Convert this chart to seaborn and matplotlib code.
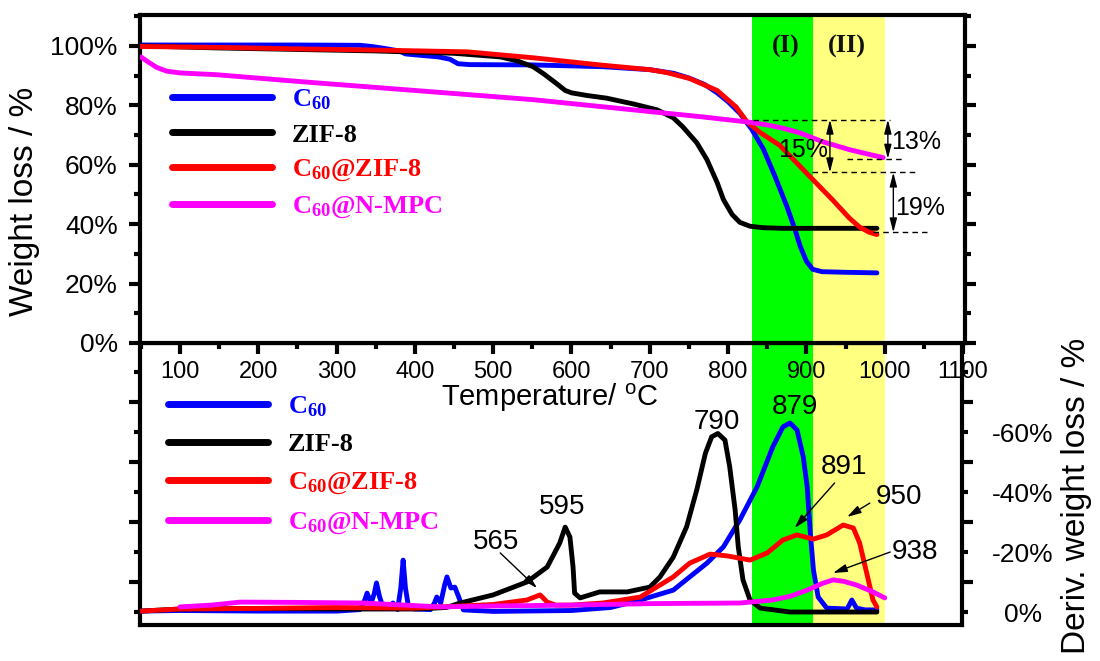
import numpy as np
import pandas as pd
import matplotlib
matplotlib.use("Agg")
import matplotlib.pyplot as plt
import seaborn as sns
from matplotlib.ticker import MultipleLocator, FixedLocator, FuncFormatter, NullFormatter

sns.set_theme(style="ticks")
plt.rcParams["font.family"] = ["Liberation Sans", "DejaVu Sans"]
plt.rcParams["mathtext.fontset"] = "custom"
plt.rcParams["mathtext.rm"] = "Liberation Sans"
plt.rcParams["mathtext.it"] = "Liberation Sans:italic"
plt.rcParams["mathtext.bf"] = "Liberation Serif:bold"

# ---------------- data: TGA (temperature in degC, weight %) ----------------
c60_T = [50, 150, 250, 330, 345, 360, 380, 388, 400, 430, 445, 455, 470, 550, 640, 700,
         730, 750, 770, 786, 800, 815, 830, 845, 860, 875, 885, 892, 900, 908, 920, 950, 990]
c60_W = [100.3, 100.3, 100.3, 100.2, 99.8, 99.2, 98.3, 97.3, 97.0, 96.3, 95.5, 94.0, 93.7,
         93.6, 93.0, 92.0, 90.8, 89.2, 87.0, 84.2, 81.2, 77.3, 72.0, 65.3, 56.0, 46.0, 38.5,
         32.6, 27.5, 24.8, 24.0, 23.8, 23.6]

zif_T = [50, 150, 250, 350, 450, 509, 530, 551, 565, 580, 592, 600, 620, 645, 680, 709, 730,
         742, 760, 773, 786, 794, 805, 815, 828, 845, 870, 990]
zif_W = [100.0, 99.3, 98.8, 98.3, 97.5, 96.3, 95.0, 93.0, 90.5, 87.5, 85.0, 84.2, 83.3, 82.4,
         80.4, 78.5, 75.8, 72.8, 67.4, 61.7, 54.0, 48.3, 43.3, 40.6, 39.3, 38.8, 38.6, 38.6]

cz_T = [50, 150, 250, 350, 467, 551, 636, 700, 722, 751, 786, 810, 824, 840, 866, 892, 910,
        934, 955, 968, 980, 990]
cz_W = [99.8, 99.5, 99.0, 98.6, 98.0, 96.0, 93.6, 92.0, 91.0, 89.0, 85.0, 79.5, 74.5, 71.0,
        66.5, 59.4, 54.5, 48.0, 42.0, 39.0, 37.3, 36.5]

cn_T = [50, 60, 70, 83, 100, 147, 253, 400, 551, 700, 764, 828, 850, 870, 892, 920, 956, 980, 998]
cn_W = [96.3, 94.5, 92.8, 91.5, 90.9, 90.3, 88.0, 85.0, 81.9, 77.9, 76.2, 74.3, 73.4, 72.3,
        70.7, 67.8, 65.0, 63.5, 62.4]

# ---------------- data: DTG (temperature in degC, deriv. weight loss %) ----------------
c60_dT = [50, 100, 200, 300, 330, 336, 339, 344, 348, 351, 355, 360, 368, 372, 378, 382, 385,
          388, 392, 400, 420, 425, 428, 433, 438, 441, 446, 451, 456, 462, 500, 600, 650, 688,
          730, 773, 794, 815, 837, 857, 870, 879, 888, 896, 901, 905, 909, 915, 926, 952, 958,
          964, 975, 990]
c60_dV = [-0.3, -0.5, -0.3, -0.3, -0.8, -4, -6.3, -3, -6, -9.7, -5, -1.2, -1.5, -3, -0.8, -8,
          -17.3, -8, -1.5, -1.0, -0.8, -3, -5, -3, -9, -11.7, -8, -8.3, -5, -0.7, -0.2, -0.5,
          -1.5, -4, -7.3, -16.3, -21.7, -30.7, -41.7, -55, -61.7, -63, -60.7, -51.7, -41.7,
          -26.3, -14, -5, -1.3, -1, -4, -1.3, -0.7, -0.7]

zif_dT = [50, 100, 200, 300, 400, 440, 458, 500, 543, 569, 585, 592, 598, 602, 604, 611, 636,
          671, 700, 713, 730, 747, 760, 771, 779, 787, 796, 802, 809, 813, 819, 828, 841, 879,
          990]
zif_dV = [-0.3, -1.0, -1.2, -1.0, -1.0, -1.5, -3, -5.7, -10, -15, -23, -28.3, -25, -15, -6.3,
          -4.7, -6.7, -6.7, -8.3, -11.7, -18.3, -28.4, -40.7, -52.9, -58.4, -59.5, -57.3, -48.5,
          -34, -21.7, -10.7, -4, -1.3, 0, 0]

cz_dT = [50, 100, 200, 300, 400, 500, 543, 560, 569, 580, 600, 640, 688, 730, 751, 777, 799,
         828, 850, 870, 888, 909, 926, 947, 960, 968, 977, 985, 990]
cz_dV = [-0.3, -1, -1.2, -1.5, -1.3, -2.5, -4, -5.7, -3.3, -2.3, -2.3, -3, -5, -11.7, -16.3,
         -19.3, -18.7, -17.3, -19.7, -24, -25.7, -24.3, -25.7, -29, -28, -23, -13, -4, -1.7]

cn_dT = [100, 140, 177, 250, 333, 433, 500, 600, 700, 815, 857, 880, 901, 920, 934, 948, 964,
         985, 1000]
cn_dV = [-1.7, -2.3, -3.3, -3.2, -3, -1.7, -2, -2.3, -2.8, -3, -4, -5.3, -7.3, -9.5, -10.7,
         -10.2, -9, -6.7, -4.7]

series_names = ["C$\\mathbf{_{60}}$", "ZIF-8", "C$\\mathbf{_{60}}$@ZIF-8", "C$\\mathbf{_{60}}$@N-MPC"]
series_colors = ["#0000ff", "#000000", "#ff0000", "#ff00ff"]

# regions (I) and (II)
region1 = (830, 908)
region2 = (908, 1000)

# TGA annotations
tga_dash = [(832, 1007, 75.2), (952, 1026, 62.0), (907, 1039, 57.4), (985, 1054, 37.2)]
tga_arrows = [(930, 75.2, 57.4), (1004, 75.2, 62.0), (1011, 57.4, 37.2)]
tga_texts = [("15%", 896, 64.8), ("13%", 1040, 67.8), ("19%", 1045, 45.6)]

# DTG annotations: label, text x, text y, arrow tail, arrow head
dtg_notes = [("565", 504, -23.3, (509, -19.7), (556, -8.0)),
             ("595", 588, -35.0, None, None),
             ("790", 786, -63.3, None, None),
             ("879", 885, -68.3, None, None),
             ("891", 948, -48.3, (936, -43.0), (885, -28.0)),
             ("950", 1018, -38.3, (981, -36.3), (952, -31.7)),
             ("938", 1039, -20.0, (1007, -20.0), (934, -13.0))]

# ---------------- figure ----------------
W, H = 1100, 661
fig = plt.figure(figsize=(11, 6.61), dpi=100)
ax_t = fig.add_axes([140 / W, (H - 343) / H, 825 / W, 328 / H])
ax_b = fig.add_axes([140 / W, (H - 625) / H, 822 / W, 282 / H])
ax_t.set_zorder(3)
ax_b.set_zorder(1)

for ax in (ax_t, ax_b):
    ax.axvspan(*region1, color="#00ff00", lw=0, zorder=0)
    ax.axvspan(*region2, color="#ffff80", lw=0, zorder=0)
    for sp in ax.spines.values():
        sp.set_linewidth(3)
        sp.set_color("black")
        sp.set_visible(True)

tga = [(c60_T, c60_W), (zif_T, zif_W), (cz_T, cz_W), (cn_T, cn_W)]
dtg = [(c60_dT, c60_dV), (zif_dT, zif_dV), (cz_dT, cz_dV), (cn_dT, cn_dV)]
draw_order = [1, 2, 0, 3]
for i in draw_order:
    sns.lineplot(x=tga[i][0], y=tga[i][1], color=series_colors[i], lw=3.5, ax=ax_t,
                 estimator=None, sort=False, label=series_names[i], zorder=3 + i)
    sns.lineplot(x=dtg[i][0], y=dtg[i][1], color=series_colors[i], lw=3.5, ax=ax_b,
                 estimator=None, sort=False, label=series_names[i], zorder=3 + i)
for ax in (ax_t, ax_b):
    for ln in ax.get_lines():
        ln.set_solid_joinstyle("round")
        ln.set_solid_capstyle("round")

# top axis setup
ax_t.set_xlim(49, 1102.5)
ax_t.set_ylim(0, 110.4)
ax_t.xaxis.set_major_locator(MultipleLocator(100))
ax_t.xaxis.set_minor_locator(MultipleLocator(50))
ax_t.yaxis.set_major_locator(MultipleLocator(20))
ax_t.yaxis.set_minor_locator(MultipleLocator(10))
ax_t.yaxis.set_major_formatter(FuncFormatter(lambda v, p: f"{v:.0f}%"))
ax_t.tick_params(axis="x", which="both", direction="out", bottom=True, top=False, width=3,
                 labelsize=17, pad=5, colors="black")
ax_t.tick_params(axis="x", which="major", length=8)
ax_t.tick_params(axis="x", which="minor", length=4)
ax_t.tick_params(axis="y", which="both", direction="out", left=True, right=True, width=3,
                 labelsize=19, pad=8, colors="black")
ax_t.tick_params(axis="y", which="major", length=8)
ax_t.tick_params(axis="y", which="minor", length=4)
ax_t.set_xlabel("")
ax_t.set_ylabel("")

# bottom axis setup
ax_b.set_xlim(49, 1098.7)
ax_b.set_ylim(4.33, -89.67)
ax_b.yaxis.set_major_locator(FixedLocator([-10, -30, -50, -70]))
ax_b.yaxis.set_minor_locator(FixedLocator([0, -20, -40, -60, -80]))
ax_b.yaxis.set_major_formatter(NullFormatter())
ax_b.yaxis.set_minor_formatter(FuncFormatter(lambda v, p: f"{v:.0f}%" if v > -70 else ""))
ax_b.tick_params(axis="x", which="both", bottom=False, top=False, labelbottom=False)
ax_b.tick_params(axis="y", which="both", direction="out", left=True, right=True, width=3,
                 labelleft=False, colors="black")
ax_b.tick_params(axis="y", which="major", length=8, labelright=False)
ax_b.tick_params(axis="y", which="minor", length=4, labelright=True, labelsize=19, pad=40)
for lab in ax_b.get_yticklabels(minor=True):
    lab.set_horizontalalignment("center")
ax_b.set_xlabel("")
ax_b.set_ylabel("")

# legends
def make_legend(ax, anchor, spacing):
    handles, labels = ax.get_legend_handles_labels()
    order = [labels.index(n) for n in series_names]
    leg = ax.legend([handles[k] for k in order], [labels[k] for k in order],
                    loc="upper left", bbox_to_anchor=anchor, frameon=False,
                    handlelength=3.8, handletextpad=0.75, labelspacing=spacing,
                    borderaxespad=0, borderpad=0, labelcolor="linecolor",
                    prop={"family": "Liberation Serif", "weight": "bold", "size": 19})
    for h in leg.legend_handles:
        h.set_linewidth(5)
    leg.set_zorder(20)
    return leg

make_legend(ax_t, (0.039, 0.779), 0.42)
make_legend(ax_b, (0.034, 0.819), 0.54)

# region labels
for txt, xx in (("(I)", 873), ("(II)", 952)):
    ax_t.text(xx, 99.7, txt, ha="center", va="center", fontsize=19, fontweight="bold",
              family="Liberation Serif", color="#111111", zorder=10)

# TGA annotations
for x0, x1, y in tga_dash:
    ax_t.plot([x0, x1], [y, y], color="black", lw=1, ls=(0, (4, 3)), zorder=8)
for x, y0, y1 in tga_arrows:
    ax_t.annotate("", xy=(x, y1), xytext=(x, y0),
                  arrowprops=dict(arrowstyle="<|-|>,head_length=0.7,head_width=0.18",
                                  color="black", lw=1, shrinkA=0, shrinkB=0), zorder=9)
for txt, x, y in tga_texts:
    ax_t.text(x, y, txt, ha="center", va="center", fontsize=18, color="black", zorder=10)

# DTG annotations
for txt, tx, ty, tail, head in dtg_notes:
    ax_b.text(tx, ty, txt, ha="center", va="center", fontsize=20, color="black", zorder=10)
    if tail is not None:
        ax_b.annotate("", xy=head, xytext=tail,
                      arrowprops=dict(arrowstyle="-|>,head_length=0.7,head_width=0.2",
                                      color="black", lw=1, shrinkA=0, shrinkB=0), zorder=9)

# axis titles
fig.text(25 / W, 1 - 201 / H, "Weight loss / %", rotation=90, ha="center", va="center",
         fontsize=24, color="black")
fig.text(1077 / W, 1 - 496 / H, "Deriv. weight loss / %", rotation=90, ha="center",
         va="center", fontsize=24, color="black")
fig.text(550 / W, 1 - 398 / H, "Temperature/ $^{\\mathrm{o}}$C", ha="center", va="center",
         fontsize=21, color="black", zorder=30)

fig.savefig("out.png", dpi=100, facecolor="white")
